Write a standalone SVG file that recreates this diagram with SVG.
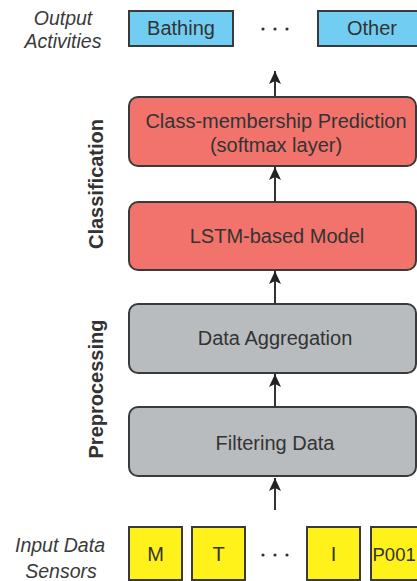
<svg xmlns="http://www.w3.org/2000/svg" width="417" height="581" viewBox="0 0 417 581">
<style>
text{font-family:"Liberation Sans",Arial,sans-serif;fill:#333;}
.lbl{font-size:20px;text-anchor:middle;}
.side{font-size:19.5px;font-style:italic;text-anchor:middle;fill:#3a3a3a;}
.stage{font-size:20px;font-weight:bold;text-anchor:middle;}
.box{stroke:#3a3a3a;stroke-width:2;}
.blue{fill:#72cdf2;}
.red{fill:#f1736b;}
.gray{fill:#b9bcbe;}
.yellow{fill:#fff21a;}
.conn{stroke:#333;stroke-width:2;fill:none;marker-end:url(#ah);}
.dot{fill:#333;}
</style>
<defs>
<marker id="ah" markerWidth="14" markerHeight="12" refX="13" refY="6" orient="auto" markerUnits="userSpaceOnUse" viewBox="0 0 14 12">
<path d="M13,6 L0,0 L3,6 L0,12 Z" fill="#222"/>
</marker>
</defs>
<rect width="417" height="581" fill="#fff"/>

<g id="label-output">
<text class="side" x="63" y="25">Output</text>
<text class="side" x="63" y="48">Activities</text>
</g>
<g id="label-input">
<text class="side" x="60" y="552">Input Data</text>
<text class="side" x="61" y="578">Sensors</text>
</g>
<g id="label-classification">
<text class="stage" transform="translate(103,184) rotate(-90)">Classification</text>
</g>
<g id="label-preprocessing">
<text class="stage" transform="translate(103,389) rotate(-90)">Preprocessing</text>
</g>

<g id="out-bathing">
<rect class="box blue" x="129" y="11" width="104" height="35"/>
<text class="lbl" x="181" y="35">Bathing</text>
</g>
<g id="out-dots">
<circle class="dot" cx="263" cy="29" r="1.6"/>
<circle class="dot" cx="275" cy="29" r="1.6"/>
<circle class="dot" cx="287" cy="29" r="1.6"/>
</g>
<g id="out-other">
<rect class="box blue" x="318" y="11" width="108" height="35"/>
<text class="lbl" x="372" y="35">Other</text>
</g>

<g id="class-pred">
<rect class="box red" x="129" y="97" width="287" height="69" rx="9"/>
<text class="lbl" x="276" y="128">Class-membership Prediction</text>
<text class="lbl" x="276" y="152">(softmax layer)</text>
</g>
<g id="lstm">
<rect class="box red" x="129" y="202" width="287" height="68" rx="9"/>
<text class="lbl" x="277" y="243">LSTM-based Model</text>
</g>
<g id="aggregation">
<rect class="box gray" x="129" y="304" width="287" height="69" rx="9"/>
<text class="lbl" x="275" y="345">Data Aggregation</text>
</g>
<g id="filtering">
<rect class="box gray" x="129" y="407" width="287" height="69" rx="9"/>
<text class="lbl" x="275" y="450">Filtering Data</text>
</g>

<g id="in-m">
<rect class="box yellow" x="129" y="527" width="53" height="53"/>
<text class="lbl" x="155.5" y="561">M</text>
</g>
<g id="in-t">
<rect class="box yellow" x="192" y="527" width="53" height="53"/>
<text class="lbl" x="218.5" y="561">T</text>
</g>
<g id="in-dots">
<circle class="dot" cx="263" cy="555" r="1.6"/>
<circle class="dot" cx="275" cy="555" r="1.6"/>
<circle class="dot" cx="287" cy="555" r="1.6"/>
</g>
<g id="in-i">
<rect class="box yellow" x="307" y="527" width="53" height="53"/>
<text class="lbl" x="333.5" y="561">I</text>
</g>
<g id="in-p001">
<rect class="box yellow" x="371" y="527" width="60" height="53"/>
<text x="372.5" y="561" style="font-size:18.5px">P001</text>
</g>

<g id="connectors">
<line class="conn" x1="275" y1="97" x2="275" y2="71"/>
<line class="conn" x1="275" y1="202" x2="275" y2="167"/>
<line class="conn" x1="275" y1="304" x2="275" y2="271"/>
<line class="conn" x1="275" y1="407" x2="275" y2="374"/>
<line class="conn" x1="275" y1="510" x2="275" y2="478"/>
</g>
</svg>
